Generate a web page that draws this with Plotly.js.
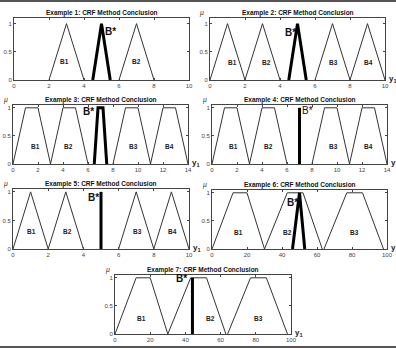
<!DOCTYPE html>
<html>
<head>
<meta charset="utf-8">
<script src="https://cdn.plot.ly/plotly-3.0.1.min.js"></script>
<style>html,body{margin:0;padding:0;background:#fff;}#chart{width:396px;height:348px;}</style>
</head>
<body>
<div id="chart"></div>
<script>
// ---- data ----
const titles = [
  "Example 1: CRF Method Conclusion",
  "Example 2: CRF Method Conclusion",
  "Example 3: CRF Method Conclusion",
  "Example 4: CRF Method Conclusion",
  "Example 5: CRF Method Conclusion",
  "Example 6: CRF Method Conclusion",
  "Example 7: CRF Method Conclusion"
];
const xRanges = [[0,10],[0,10],[0,14],[0,14],[0,10],[0,100],[0,100]];
const xTicks = [
  [0,2,4,6,8,10],[0,2,4,6,8,10],
  [0,2,4,6,8,10,12,14],[0,2,4,6,8,10,12,14],
  [0,2,4,6,8,10],
  [0,20,40,60,80,100],[0,20,40,60,80,100]
];
const yTicks = [0, 0.5, 1];
const yTickText = ["0", "0.5", "1"];
const yTops = [1.1, 1.1, 1.05, 1.05, 1.05, 1.05, 1.05];

// membership grades by number of break points
const triMu = [0, 1, 0];
const trapMu = [0, 1, 1, 0];
const lineMu = [0, 1];

const ex1Sets = [[2,3,4],[6,7,8]];
const ex2Sets = [[0,1,2],[2,3,4],[6,7,8],[8,9,10]];
const ex3Sets = [[0,1,2,3],[3,4,5,6],[8,9,10,11],[11,12,13,14]];
const ex4Sets = [[0,1,2,3],[3,4,5,6],[8,9,10,11],[11,12,13,14]];
const ex5Sets = [[0,1,2],[2,3,4],[6,7,8],[8,9,10]];
const ex6Sets = [[0,12,20,30],[30,43,52,63],[64,77,86,98]];
const ex7Sets = [[0,12,20,30],[30,43,52,63],[64,77,86,98]];
const allSets = [ex1Sets, ex2Sets, ex3Sets, ex4Sets, ex5Sets, ex6Sets, ex7Sets];

const bStar = [[4.5,5,5.5],[4.5,5,5.5],[6.5,6.8,7.2,7.5],[7,7],[5,5],[46,50,53],[44,44]];

const setNames = [
  ["B1","B2"],["B1","B2","B3","B4"],["B1","B2","B3","B4"],["B1","B2","B3","B4"],
  ["B1","B2","B3","B4"],["B1","B2","B3"],["B1","B2","B3"]
];
const setLabelX = [
  [2.9,7.0],[1.3,3.2,7.05,9.05],[1.8,4.45,9.65,12.5],[1.7,4.55,9.7,12.55],
  [1.05,3.1,7.05,9.05],[15.3,43.3,81.7],[15.2,54.3,81.8]
];
const setLabelY = [0.33, 0.31, 0.31, 0.31, 0.30, 0.30, 0.28];
const bStarLabelX = [5.5, 4.6, 6.0, 7.6, 4.6, 46, 37.5];
const bStarLabelY = [0.86, 0.85, 0.94, 0.95, 0.9, 0.83, 0.98];
const showMuY = [false, true, true, true, true, true, true];

// ---- layout (pixel boxes of each axes) ----
const W = 396, H = 348;
const boxes = [
  [14,189,18,80],[210,385,18,80],
  [13,188,105,164],[212,387,105,164],
  [13,189,189,249],[212,387,190,249],
  [115,291,275,334]
];
const FONT = "Liberation Sans, Arial, sans-serif";
const muOf = xs => xs.length === 3 ? triMu : (xs.length === 4 ? trapMu : lineMu);

const traces = [];
const layout = {
  width: W, height: H,
  margin: {l:0, r:0, t:0, b:0},
  paper_bgcolor: "#fff", plot_bgcolor: "#fff",
  showlegend: false,
  font: {family: FONT, color: "#333", size: 7},
  annotations: [],
  shapes: [
    {type:"rect", xref:"paper", yref:"paper", x0:0, x1:1, y0:1-2/H, y1:1, fillcolor:"#555", line:{width:0}},
    {type:"rect", xref:"paper", yref:"paper", x0:0, x1:1, y0:0, y1:2/H, fillcolor:"#555", line:{width:0}}
  ]
};

for (let i = 0; i < 7; i++) {
  const n = i + 1;
  const xa = "x" + (n === 1 ? "" : n), ya = "y" + (n === 1 ? "" : n);
  const xk = "xaxis" + (n === 1 ? "" : n), yk = "yaxis" + (n === 1 ? "" : n);
  const [l, r, t, b] = boxes[i];
  const common = {
    showline: true, linecolor: "#444", linewidth: 1, mirror: "ticks",
    ticks: "inside", ticklen: 2, tickcolor: "#444", tickwidth: 1,
    showgrid: false, zeroline: false, fixedrange: true,
    tickfont: {size: 6, color: "#444", family: FONT}
  };
  layout[xk] = Object.assign({}, common, {
    domain: [l / W, r / W], range: xRanges[i], anchor: ya,
    tickmode: "array", tickvals: xTicks[i], ticktext: xTicks[i].map(String)
  });
  layout[yk] = Object.assign({}, common, {
    domain: [1 - b / H, 1 - t / H], range: [0, yTops[i]], anchor: xa,
    tickmode: "array", tickvals: yTicks, ticktext: yTickText
  });

  allSets[i].forEach(xs => {
    traces.push({x: xs, y: muOf(xs), xaxis: xa, yaxis: ya, type: "scatter", mode: "lines",
      line: {color: "#333", width: 1}, hoverinfo: "skip", cliponaxis: false});
  });
  traces.push({x: bStar[i], y: muOf(bStar[i]), xaxis: xa, yaxis: ya, type: "scatter", mode: "lines",
    line: {color: "#000", width: 3}, hoverinfo: "skip", cliponaxis: false});

  setNames[i].forEach((nm, k) => {
    layout.annotations.push({xref: xa, yref: ya, x: setLabelX[i][k], y: setLabelY[i],
      text: "<b>" + nm + "</b>", showarrow: false, font: {size: 6.5, color: "#222", family: FONT}});
  });
  layout.annotations.push({xref: xa, yref: ya, x: bStarLabelX[i], y: bStarLabelY[i],
    text: i === 3 ? "B*" : "<b>B*</b>", showarrow: false, font: {size: 10, color: "#111", family: FONT}});

  // title
  layout.annotations.push({xref: "paper", yref: "paper", x: (l + r) / 2 / W, y: 1 - (t - 5) / H,
    xanchor: "center", yanchor: "middle", text: "<b>" + titles[i] + "</b>", showarrow: false,
    font: {size: 6.5, color: "#111", family: FONT}});

  if (showMuY[i]) {
    layout.annotations.push({xref: "paper", yref: "paper", x: (l - 8) / W, y: 1 - (t - 5) / H,
      xanchor: "center", yanchor: "middle", text: "<i>μ</i>", showarrow: false,
      font: {size: 7, color: "#333", family: FONT}});
    layout.annotations.push({xref: "paper", yref: "paper", x: (r + 2) / W, y: 1 - (b - 1) / H,
      xanchor: "left", yanchor: "middle", text: "<b>y<sub>1</sub></b>", showarrow: false,
      font: {size: 8, color: "#222", family: FONT}});
  }
}

Plotly.newPlot("chart", traces, layout, {staticPlot: true, displayModeBar: false});
</script>
</body>
</html>
